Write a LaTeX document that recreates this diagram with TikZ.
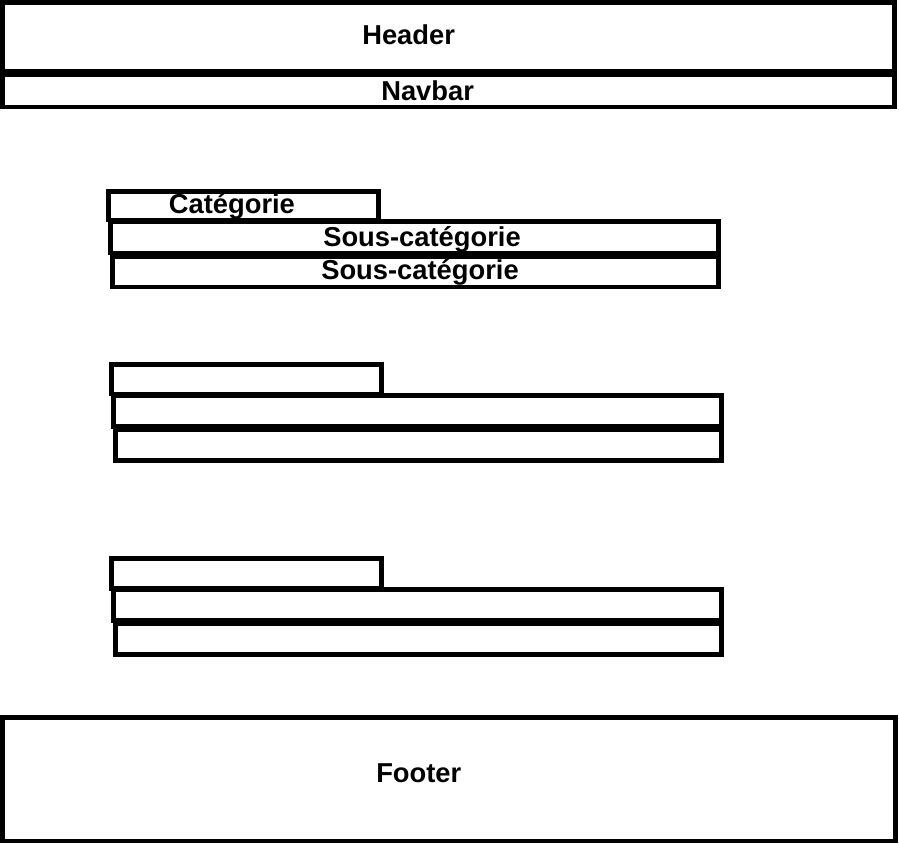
\documentclass[tikz,border=0pt]{standalone}
\usepackage{fontspec}
\setmainfont{Liberation Sans}
\usepackage{tikz}
\usetikzlibrary{positioning}
\usetikzlibrary{calc}

\tikzset{
  boite/.style={line width=3.5pt, line join=miter},
  titre/.style={font=\bfseries\fontsize{20.5}{24}\selectfont, anchor=base west, inner sep=0pt},
}

\begin{document}
\begin{tikzpicture}[x=0.75pt,y=-0.75pt]
\useasboundingbox (0,0) rectangle (899,844);

% header et navbar
\draw [boite] (2.5,2.3) rectangle (894.3,71.3);
\draw [boite] (2.5,75) rectangle (894.3,107);
\node [titre] (header) at (362,44) {Header};
\node [titre] (navbar) at (381,100) {Navbar};

% premier bloc
\draw [boite] (108.3,191.3) rectangle (378.3,220);
\draw [boite] (110.2,221.5) rectangle (718.3,253);
\draw [boite] (112.5,256.5) rectangle (718.3,287);
\node [titre] (cat) at (168.6,213.5) {Catégorie};
\node [titre] (souscatA) at (323,246.5) {Sous-catégorie};
\node [titre] (souscatB) at (321,279.5) {Sous-catégorie};

% deuxieme bloc
\draw [boite] (111.3,364.3) rectangle (381.3,394);
\draw [boite] (113.3,395.5) rectangle (721.7,426.5);
\draw [boite] (115.3,429.5) rectangle (721.7,460.3);

% troisieme bloc
\draw [boite] (111.3,558.3) rectangle (381.3,588.3);
\draw [boite] (113.3,589.5) rectangle (721.7,620.5);
\draw [boite] (115.3,623.5) rectangle (721.7,654.3);

% footer
\draw [boite] (2.5,717.5) rectangle (895.5,841);
\node [titre] (footer) at (376,782) {Footer};
\end{tikzpicture}
\end{document}
